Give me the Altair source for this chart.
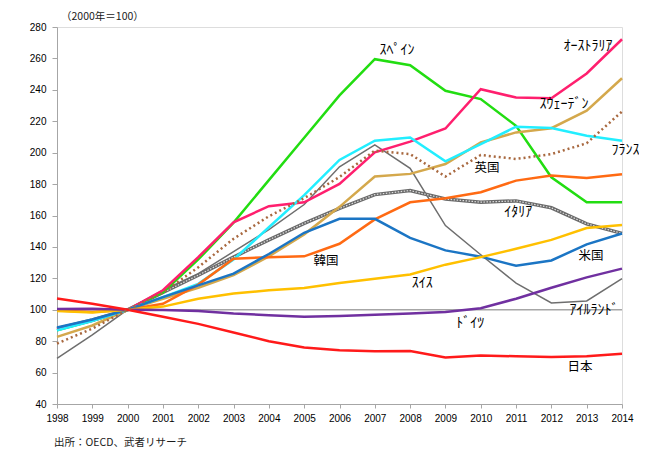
import altair as alt
import pandas as pd

years = list(range(1998, 2015))

spain = [87, 93, 100, 111, 132, 155.5, 182.5, 209.5, 236.5, 259.5, 255.7, 239.4, 234.1, 217.1, 184.3, 168.4, 168.4]
australia = [87.5, 93, 100, 112.4, 133.5, 155.7, 165.9, 168.4, 180.1, 200.2, 207, 215.4, 240.4, 235.1, 234.7, 250.4, 272.2]
sweden = [82.7, 90, 100, 107, 114, 122, 134, 148, 165.5, 184.8, 186.5, 192.8, 206.5, 212.9, 215.6, 226.7, 247.4]
france = [87, 92.8, 100, 108, 116.5, 132, 152.5, 173, 195.4, 207.6, 209.7, 194.5, 205.4, 216.5, 215.7, 210.8, 207.6]
uk = [78.5, 88, 100, 111, 127, 145.2, 159.5, 171, 184.5, 201.3, 199.1, 184.8, 198.5, 196, 199.1, 206, 226.2]
ireland = [69, 84, 100, 112.4, 123, 137, 151, 167, 191, 204.9, 190, 153.6, 135, 117, 104.3, 105.6, 119.8]
italy = [88, 93.5, 100, 111, 122, 133.5, 144.5, 155, 164.5, 173.3, 175.9, 170.5, 168.5, 169.3, 164.9, 154.7, 148.6]
korea = [99.6, 98.6, 100, 103.8, 116, 132.5, 133.5, 134, 142, 157.5, 168.4, 171, 174.8, 182.2, 185.4, 183.9, 186.3]
us = [88.7, 93.8, 100, 108, 115.5, 123, 135.5, 149, 157.9, 157.9, 145.8, 137.8, 133.8, 128, 131.4, 141.6, 148.5]
switzerland = [99.2, 98.2, 100, 102, 107, 110.3, 112.4, 113.8, 117, 119.8, 122.5, 128.7, 133.5, 138.8, 144.5, 152, 154]
germany = [100.5, 100.6, 100, 99.8, 99.2, 97.6, 96.5, 95.6, 96.0, 96.8, 97.6, 98.6, 101, 107, 114, 120.6, 126.2]
japan = [107.2, 103.8, 100, 95.5, 91, 85.5, 80, 76, 74.2, 73.6, 73.8, 69.6, 70.8, 70.4, 70, 70.4, 72]

solid_names = ["スペイン", "オーストラリア", "スウェーデン", "フランス", "韓国", "米国", "スイス", "ドイツ", "日本"]
solid_values = [spain, australia, sweden, france, korea, us, switzerland, germany, japan]
solid_colors = ["#22DD11", "#FF1F6E", "#D4A84C", "#22EEFF", "#FF6A13", "#1B75C4", "#FFC000", "#7030A0", "#FF1A1A"]

kana_text = ["ｽﾍﾟｲﾝ", "ｵｰｽﾄﾗﾘｱ", "ｽｳｪｰﾃﾞﾝ", "ﾌﾗﾝｽ", "ｲﾀﾘｱ", "ｽｲｽ", "ﾄﾞｲﾂ", "ｱｲﾙﾗﾝﾄﾞ"]
kana_x = [2007.63, 2013.04, 2012.36, 2014.1, 2011.06, 2008.34, 2009.7, 2013.21]
kana_y = [265.4, 267.9, 231.0, 201.7, 162.2, 117.0, 91.6, 99.8]

kanji_text = ["英国", "韓国", "米国", "日本"]
kanji_x = [2010.18, 2005.62, 2013.12, 2012.81]
kanji_y = [190.2, 131.0, 134.2, 63.6]

FONT_JP = "Noto Sans CJK JP"
FONT_NUM = "Liberation Sans"

rows = []
for name, vals in zip(solid_names, solid_values):
    for yr, v in zip(years, vals):
        rows.append({"country": name, "year": yr, "value": v})
solid_df = pd.DataFrame(rows)
uk_df = pd.DataFrame({"year": years, "value": uk})
ireland_df = pd.DataFrame({"year": years, "value": ireland})
italy_df = pd.DataFrame({"year": years, "value": italy})
ref_df = pd.DataFrame({"year": years, "value": [100] * len(years)})
kana_df = pd.DataFrame({"text": kana_text, "year": kana_x, "value": kana_y})
kanji_df = pd.DataFrame({"text": kanji_text, "year": kanji_x, "value": kanji_y})

xscale = alt.Scale(domain=[1998, 2014], nice=False)
yscale = alt.Scale(domain=[40, 280], nice=False)

xaxis = alt.Axis(values=years, format="d", title=None, grid=False, labelFont=FONT_NUM,
                 labelFontSize=10, labelColor="#000000", tickColor="#A6A6A6", domainColor="#A6A6A6",
                 tickSize=4, labelPadding=5, labelFlush=False, labelOverlap=False)
yaxis = alt.Axis(values=list(range(40, 281, 20)), title=None, grid=False, labelFont=FONT_NUM,
                 labelFontSize=10, labelColor="#000000", tickColor="#A6A6A6", domainColor="#A6A6A6",
                 tickSize=5, labelPadding=6, labelOverlap=False, labelFlush=False)

X = alt.X("year:Q", scale=xscale, axis=xaxis)
Y = alt.Y("value:Q", scale=yscale, axis=yaxis)

ref = alt.Chart(ref_df).mark_line(color="#A6A6A6", strokeWidth=1.5).encode(x=X, y=Y)

ireland_line = alt.Chart(ireland_df).mark_line(color="#6E6E6E", strokeWidth=1.5).encode(x=X, y=Y)

italy_line = alt.Chart(italy_df).mark_line(color="#6A6A6A", strokeWidth=3.5).encode(x=X, y=Y)
italy_inner = alt.Chart(italy_df).mark_line(color="#E0E0E0", strokeWidth=1.2, strokeDash=[1.5, 1.5]).encode(x=X, y=Y)

solid = alt.Chart(solid_df).mark_line(strokeWidth=2.5).encode(
    x=X, y=Y,
    color=alt.Color("country:N", scale=alt.Scale(domain=solid_names, range=solid_colors), legend=None),
    detail="country:N",
)

uk_line = alt.Chart(uk_df).mark_line(color="#A8683F", strokeWidth=2.5, strokeDash=[2, 3]).encode(x=X, y=Y)

kana_labels = alt.Chart(kana_df).mark_text(font=FONT_JP, fontSize=14, color="#000000",
                                           align="center", baseline="middle").encode(
    x=X, y=Y, text="text:N")

kanji_labels = alt.Chart(kanji_df).mark_text(font=FONT_JP, fontSize=12.5, color="#000000",
                                             align="center", baseline="middle").encode(
    x=X, y=Y, text="text:N")

unit_note = alt.Chart(pd.DataFrame({"t": ["（2000年＝100）"]})).mark_text(
    font=FONT_JP, fontSize=10.5, color="#1A1A1A", align="left", baseline="middle").encode(
    x=alt.value(4), y=alt.value(-10), text="t:N")

source_note = alt.Chart(pd.DataFrame({"t": ["出所：OECD、武者リサーチ"]})).mark_text(
    font=FONT_JP, fontSize=10.5, color="#1A1A1A", align="left", baseline="middle").encode(
    x=alt.value(-3), y=alt.value(416), text="t:N")

chart = alt.layer(ref, ireland_line, italy_line, italy_inner, solid, uk_line,
                  kana_labels, kanji_labels, unit_note, source_note).properties(
    width=565, height=377,
    autosize=alt.AutoSizeParams(type="none"),
    padding={"left": 49, "top": 19, "right": 17, "bottom": 44},
).configure_view(stroke=None).configure_axis(labelOverlap=False).configure(background="#FFFFFF")

chart.save("out.html", embed_options={"renderer": "svg", "actions": False})
